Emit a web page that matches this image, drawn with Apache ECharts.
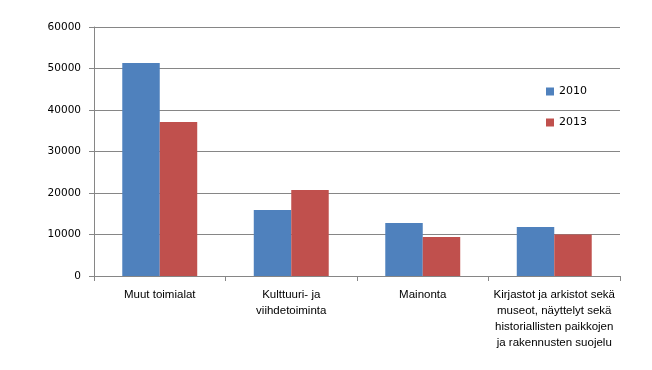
<!DOCTYPE html>
<html><head><meta charset="utf-8">
<script src="https://cdn.jsdelivr.net/npm/echarts@6/dist/echarts.min.js"></script>
<style>html,body{margin:0;padding:0;background:#fff}#c{width:652px;height:370px}</style>
</head><body><div id="c"></div>
<script>
const categories = ['Muut toimialat', 'Kulttuuri- ja\nviihdetoiminta', 'Mainonta', 'Kirjastot ja arkistot sekä\nmuseot, näyttelyt sekä\nhistoriallisten paikkojen\nja rakennusten suojelu'];
const values2010 = [51300, 15900, 12800, 11800];
const values2013 = [37100, 20700, 9400, 10000];
const seriesNames = ['2010', '2013'];
const yTicks = [0, 10000, 20000, 30000, 40000, 50000, 60000];

const chart = echarts.init(document.getElementById('c'), null, {renderer: 'canvas'});
chart.setOption({
  animation: false,
  grid: {left: 94, right: 32, top: 27, bottom: 94},
  legend: {
    orient: 'vertical', left: 541, top: 81,
    itemWidth: 8, itemHeight: 8, itemGap: 20,
    icon: 'rect',
    textStyle: {fontFamily: 'DejaVu Sans', fontSize: 11, color: '#000'},
    data: seriesNames
  },
  xAxis: {
    type: 'category', data: categories,
    axisLine: {lineStyle: {color: '#868686', width: 1}},
    axisTick: {show: true, length: 5, alignWithLabel: false, lineStyle: {color: '#868686'}},
    axisLabel: {interval: 0, margin: 11, fontFamily: 'Liberation Sans', fontSize: 11.5, color: '#000', lineHeight: 16}
  },
  yAxis: {
    type: 'value', min: yTicks[0], max: yTicks[yTicks.length - 1], interval: 10000,
    axisLine: {show: true, lineStyle: {color: '#868686'}},
    axisTick: {show: true, length: 5, lineStyle: {color: '#868686'}},
    splitLine: {lineStyle: {color: '#868686', width: 1}},
    axisLabel: {margin: 13, fontFamily: 'DejaVu Sans', fontSize: 10.5, color: '#000', formatter: v => String(v)}
  },
  series: [
    {name: seriesNames[0], type: 'bar', data: values2010, barGap: '0%', barCategoryGap: '43%', itemStyle: {color: '#4F81BD'}},
    {name: seriesNames[1], type: 'bar', data: values2013, barGap: '0%', barCategoryGap: '43%', itemStyle: {color: '#C0504D'}}
  ]
});
</script></body></html>
